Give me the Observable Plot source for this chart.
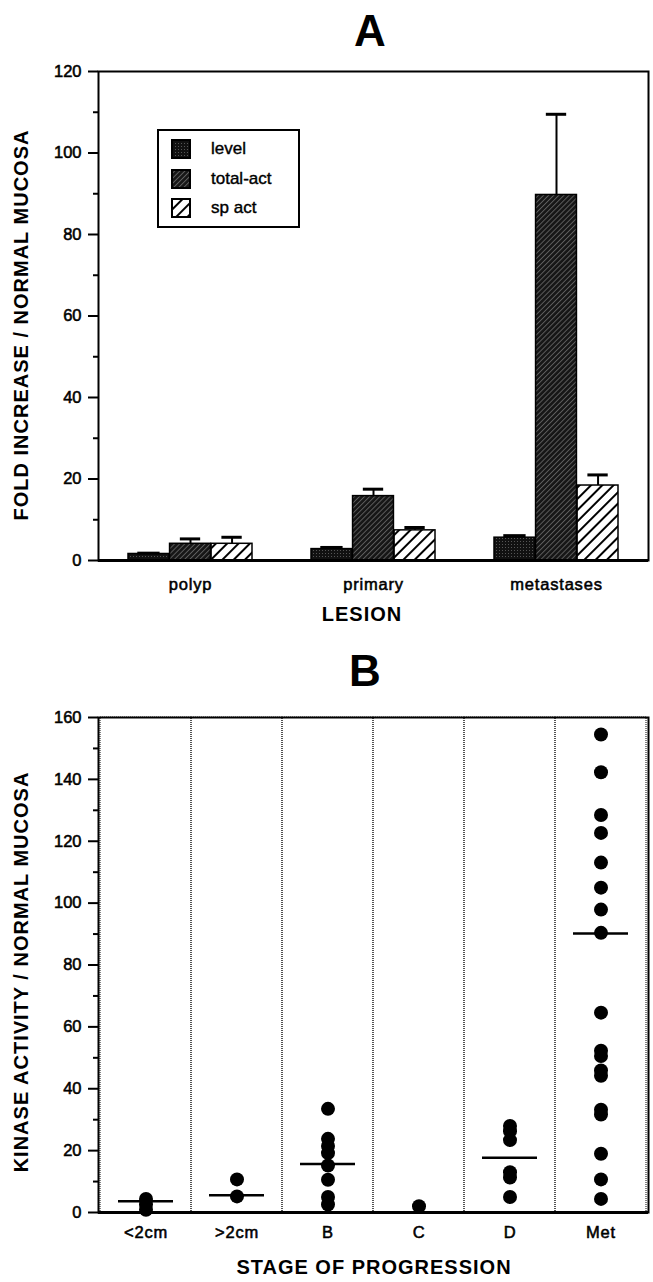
<!DOCTYPE html>
<html><head><meta charset="utf-8">
<script src="https://cdn.jsdelivr.net/npm/d3@7"></script>
<script src="https://cdn.jsdelivr.net/npm/@observablehq/plot@0.6"></script>
<style>
body{margin:0;background:#fff;}
#wrap{position:relative;width:653px;height:1282px;font-family:"Liberation Sans",Arial,Helvetica,sans-serif;color:#000;}
#wrap svg{position:absolute;left:0;overflow:visible;}
#wrap svg text{paint-order:stroke;stroke:#000;stroke-width:0.55px;}
#wrap svg g[aria-label="y-axis tick"] path{stroke-width:2px;}
#wrap svg g[aria-label="x-axis tick label"] text{letter-spacing:0.8px;}
.lbl{position:absolute;font-weight:bold;white-space:nowrap;text-align:center;}
.title{font-size:44px;line-height:44px;}
.axt{font-size:20px;line-height:24px;letter-spacing:1px;}
.rot{transform:rotate(-90deg);}
#legend{position:absolute;left:157px;top:129px;width:139px;height:95px;border:2px solid #000;background:#fff;}
#legend .row{position:absolute;left:12px;width:120px;height:20px;font-size:17px;line-height:20px;white-space:nowrap;-webkit-text-stroke:0.4px #000;}
#legend .row svg{position:absolute;left:0;top:0;}
#legend .row span{position:absolute;left:40px;top:0;white-space:nowrap;}
</style></head><body><div id="wrap"></div>
<script>
// ---------- Panel A data ----------
const lesions = ["polyp", "primary", "metastases"];
const seriesNames = ["level", "total-act", "sp act"];
const levelVals = [1.6, 2.8, 5.6];
const levelErr  = [0.2, 0.4, 0.5];
const totalVals = [4.1, 15.8, 89.7];
const totalErr  = [1.2, 1.7, 19.8];
const spVals    = [4.1, 7.4, 18.4];
const spErr     = [1.6, 0.7, 2.6];
const yTicksA = [0, 20, 40, 60, 80, 100, 120];
const yMinorA = [10, 30, 50, 70, 90, 110];

// ---------- Panel B data ----------
const stages = ["<2cm", ">2cm", "B", "C", "D", "Met"];
const ptsLt2 = [4.4, 2.6, 0.9];
const ptsGt2 = [10.7, 5.2];
const ptsB   = [33.5, 23.8, 21.5, 19.2, 15.2, 10.6, 5.0, 2.6];
const ptsC   = [2.0];
const ptsD   = [28.0, 26.3, 23.4, 13.0, 11.3, 5.0];
const ptsMet = [154.5, 142.3, 128.5, 122.7, 113.1, 105.0, 97.9, 90.4, 64.6, 52.3, 50.6, 45.9, 44.2, 33.2, 31.7, 19.0, 10.7, 4.4];
const meansB = [3.6, 5.6, 15.7, null, 17.7, 90.2];
const yTicksB = [0, 20, 40, 60, 80, 100, 120, 140, 160];
const yMinorB = [10, 30, 50, 70, 90, 110, 130, 150];

// ---------- tables ----------
const seriesVals = [levelVals, totalVals, spVals];
const seriesErrs = [levelErr, totalErr, spErr];
const barRows = seriesNames.map((s, i) => lesions.map((l, j) => ({lesion: l, series: s, value: seriesVals[i][j], err: seriesErrs[i][j]})));
const ptsAll = [ptsLt2, ptsGt2, ptsB, ptsC, ptsD, ptsMet];
const points = stages.flatMap((s, i) => ptsAll[i].map(v => ({stage: s, value: v})));
const means = stages.map((s, i) => ({stage: s, mean: meansB[i]})).filter(d => d.mean != null);

const W = 653, mL = 98, mR = 5;
const plotW = W - mL - mR;
const pIn = 0.32, pOut = 0.16;
const step = plotW / (lesions.length - pIn + 2 * pOut);
const bw = step * (1 - pIn);
const barW = bw / 3;
const capW = [23, 21, 21];
const fills = ["url(#patLevel)", "url(#patTotal)", "url(#patSp)"];
const font = "'Liberation Sans', Arial, Helvetica, sans-serif";

const wrap = document.getElementById("wrap");

// ---------- Panel A ----------
const marksA = [];
seriesNames.forEach((s, i) => {
  marksA.push(Plot.barY(barRows[i], {x: "lesion", y: "value", fill: fills[i], stroke: "#000", strokeWidth: 1.5,
    insetLeft: i * barW, insetRight: (2 - i) * barW}));
});
seriesNames.forEach((s, i) => {
  const off = (i - 1) * barW;
  marksA.push(Plot.ruleX(barRows[i], {x: "lesion", y1: "value", y2: d => d.value + d.err, dx: off, strokeWidth: 2}));
  marksA.push(Plot.tickY(barRows[i], {x: "lesion", y: d => d.value + d.err, strokeWidth: 3,
    insetLeft: (bw - capW[i]) / 2 + off, insetRight: (bw - capW[i]) / 2 - off}));
});
marksA.push(Plot.tickY(yMinorA, {y: d => d, insetRight: plotW - 5, dx: -5, strokeWidth: 2}));
marksA.push(Plot.frame({strokeWidth: 2}));
marksA.push(Plot.ruleY([0], {strokeWidth: 3}));

const svgA = Plot.plot({
  width: W, height: 600,
  marginLeft: mL, marginRight: mR, marginTop: 71, marginBottom: 40,
  style: {fontFamily: font, fontSize: "16.5px", color: "#000", background: "transparent"},
  x: {domain: lesions, paddingInner: pIn, paddingOuter: pOut, tickSize: 0, tickPadding: 18, label: null},
  y: {domain: [0, 120], ticks: yTicksA, tickSize: 10, tickPadding: 7, label: null},
  marks: marksA
});
svgA.style.top = "0px";
const defs = d3.select(svgA).insert("defs", ":first-child");
const p1 = defs.append("pattern").attr("id", "patLevel").attr("width", 3).attr("height", 3).attr("patternUnits", "userSpaceOnUse");
p1.append("rect").attr("width", 3).attr("height", 3).attr("fill", "#111");
p1.append("rect").attr("x", 1).attr("y", 1).attr("width", 1).attr("height", 1).attr("fill", "#555");
const p2 = defs.append("pattern").attr("id", "patTotal").attr("width", 3.6).attr("height", 3.6).attr("patternUnits", "userSpaceOnUse").attr("patternTransform", "rotate(45)");
p2.append("rect").attr("width", 3.6).attr("height", 3.6).attr("fill", "#161616");
p2.append("line").attr("x1", 0.5).attr("y1", 0).attr("x2", 0.5).attr("y2", 3.6).attr("stroke", "#8a8a8a").attr("stroke-width", 0.6);
const p3 = defs.append("pattern").attr("id", "patSp").attr("width", 8).attr("height", 8).attr("patternUnits", "userSpaceOnUse").attr("patternTransform", "rotate(45)");
p3.append("rect").attr("width", 8).attr("height", 8).attr("fill", "#fff");
p3.append("line").attr("x1", 1).attr("y1", 0).attr("x2", 1).attr("y2", 8).attr("stroke", "#000").attr("stroke-width", 2);
wrap.appendChild(svgA);

// ---------- Panel B ----------
const svgB = Plot.plot({
  width: W, height: 610,
  marginLeft: mL, marginRight: mR, marginTop: 77, marginBottom: 38,
  style: {fontFamily: font, fontSize: "16.5px", color: "#000", background: "transparent"},
  x: {domain: stages, padding: 0, tickSize: 0, tickPadding: 14, label: null},
  y: {domain: [0, 160], ticks: yTicksB, tickSize: 10, tickPadding: 7, label: null},
  marks: [
    Plot.barY(stages, {x: d => d, y1: 0, y2: 160, fill: "none", stroke: "#333", strokeWidth: 1.2, strokeDasharray: "1,1"}),
    Plot.tickY(yMinorB, {y: d => d, insetRight: plotW - 5, dx: -5, strokeWidth: 2}),
    Plot.tickY(means, {x: "stage", y: "mean", strokeWidth: 2.5, inset: 18}),
    Plot.dot(points, {x: "stage", y: "value", r: 7, fill: "#000"}),
    Plot.frame({strokeWidth: 2}),
    Plot.ruleY([0], {strokeWidth: 3})
  ]
});
svgB.style.top = "640px";
wrap.appendChild(svgB);

// ---------- Legend ----------
const legend = document.createElement("div");
legend.id = "legend";
const swTops = [8, 38, 67];
seriesNames.forEach((s, i) => {
  const row = document.createElement("div");
  row.className = "row";
  row.style.top = swTops[i] + "px";
  row.innerHTML = `<svg width="20" height="20"><rect x="1" y="1" width="18" height="18" fill="${fills[i]}" stroke="#000" stroke-width="2"/></svg><span>${s}</span>`;
  legend.appendChild(row);
});
wrap.appendChild(legend);

// ---------- Titles and axis labels ----------
function addLabel(text, cls, css) {
  const d = document.createElement("div");
  d.className = "lbl " + cls;
  d.textContent = text;
  Object.assign(d.style, css);
  wrap.appendChild(d);
}
addLabel("A", "title", {left: "270px", top: "9px", width: "200px"});
addLabel("B", "title", {left: "265px", top: "649px", width: "200px"});
addLabel("LESION", "axt", {left: "262px", top: "602px", width: "200px"});
addLabel("STAGE OF PROGRESSION", "axt", {left: "224px", top: "1255px", width: "300px"});
addLabel("FOLD INCREASE / NORMAL MUCOSA", "axt rot", {left: (20.5 - 250) + "px", top: (325 - 12) + "px", width: "500px"});
addLabel("KINASE ACTIVITY / NORMAL MUCOSA", "axt rot", {left: (20.5 - 250) + "px", top: (972 - 12) + "px", width: "500px"});
</script></body></html>
